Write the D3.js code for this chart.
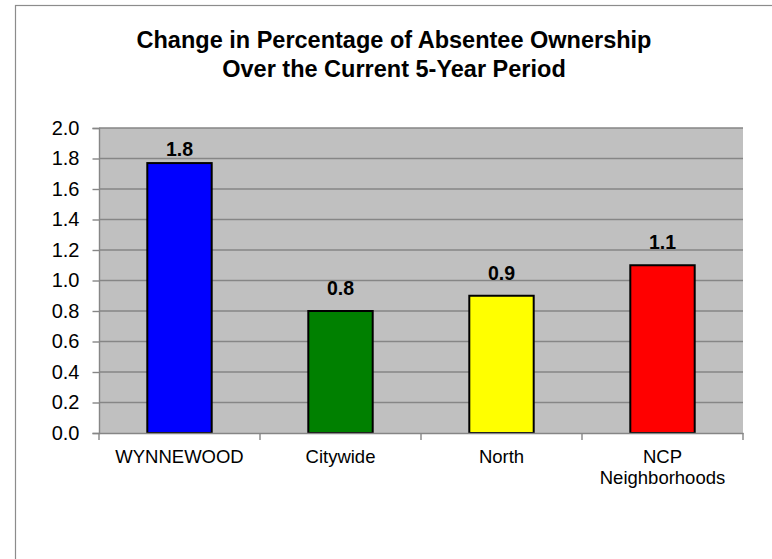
<!DOCTYPE html>
<html>
<head>
<meta charset="utf-8">
<script src="https://cdn.jsdelivr.net/npm/d3@7"></script>
<style>
  html, body { margin: 0; padding: 0; background: #ffffff; }
  svg { display: block; }
  text { font-family: "Liberation Sans", Arial, sans-serif; fill: #000; }
</style>
</head>
<body>
<svg id="chart" width="772" height="559"></svg>
<script>
// ---- data ----
const categories = ["WYNNEWOOD", "Citywide", "North", "NCP\nNeighborhoods"];
const values = [1.77, 0.80, 0.90, 1.10];
const valueLabels = ["1.8", "0.8", "0.9", "1.1"];
const barColors = ["#0000FF", "#008000", "#FFFF00", "#FF0000"];
const yTicks = [0.0, 0.2, 0.4, 0.6, 0.8, 1.0, 1.2, 1.4, 1.6, 1.8, 2.0];
const titleLines = ["Change in Percentage of Absentee Ownership", "Over the Current 5-Year Period"];

// ---- layout ----
const svg = d3.select("#chart");
const plot = { left: 99, right: 743, top: 128, bottom: 433 };

// outer frame
svg.append("rect")
  .attr("x", 15.5).attr("y", 5.5)
  .attr("width", 900).attr("height", 700)
  .attr("fill", "#ffffff")
  .attr("stroke", "#8c8c8c").attr("stroke-width", 1.2);

// title
svg.append("g").selectAll("text").data(titleLines).join("text")
  .attr("x", 394)
  .attr("y", (d, i) => 47.5 + i * 29.5)
  .attr("text-anchor", "middle")
  .attr("font-weight", "bold")
  .attr("font-size", "23.5px")
  .text(d => d);

const x = d3.scaleBand()
  .domain(categories)
  .range([plot.left, plot.right])
  .paddingInner(0).paddingOuter(0);

const y = d3.scaleLinear()
  .domain([0, 2.0])
  .range([plot.bottom, plot.top]);

// plot background
svg.append("rect")
  .attr("x", plot.left).attr("y", plot.top)
  .attr("width", plot.right - plot.left)
  .attr("height", plot.bottom - plot.top)
  .attr("fill", "#C0C0C0");

// gridlines
svg.append("g").selectAll("line").data(yTicks.filter(t => t > 0)).join("line")
  .attr("x1", plot.left).attr("x2", plot.right)
  .attr("y1", d => y(d)).attr("y2", d => y(d))
  .attr("stroke", "#868686").attr("stroke-width", 1.4);

// bars
const barW = x.bandwidth() / 2.5;
svg.append("g").selectAll("rect").data(values).join("rect")
  .attr("x", (d, i) => x(categories[i]) + (x.bandwidth() - barW) / 2)
  .attr("y", d => y(d))
  .attr("width", barW)
  .attr("height", d => y(0) - y(d))
  .attr("fill", (d, i) => barColors[i])
  .attr("stroke", "#000").attr("stroke-width", 2);

// value labels (kept inside the plot area, as Excel does)
svg.append("g").selectAll("text").data(values).join("text")
  .attr("x", (d, i) => x(categories[i]) + x.bandwidth() / 2)
  .attr("y", d => Math.max(y(d) - 16, plot.top + 28))
  .attr("text-anchor", "middle")
  .attr("font-weight", "bold")
  .attr("font-size", "19.5px")
  .text((d, i) => valueLabels[i]);

// y axis
const yAxis = d3.axisLeft(y).tickValues(yTicks).tickFormat(d3.format(".1f"))
  .tickSize(6.5).tickPadding(13);
const gy = svg.append("g").attr("transform", `translate(${plot.left},0)`).call(yAxis);
gy.select(".domain").attr("stroke", "#868686").attr("stroke-width", 1.4);
gy.selectAll(".tick line").attr("stroke", "#868686").attr("stroke-width", 1.4);
gy.selectAll(".tick text")
  .attr("font-family", "Liberation Sans, Arial, sans-serif")
  .attr("font-size", "20px").attr("fill", "#000");

// x axis
const xAxis = d3.axisBottom(x).tickSize(0).tickFormat("");
const gx = svg.append("g").attr("transform", `translate(0,${plot.bottom})`).call(xAxis);
gx.select(".domain").attr("stroke", "#868686").attr("stroke-width", 1.4);
// category boundary tick marks
const bounds = categories.map(c => x(c)).concat([x(categories[categories.length - 1]) + x.bandwidth()]);
gx.append("g").selectAll("line").data(bounds).join("line")
  .attr("x1", d => d).attr("x2", d => d)
  .attr("y1", 0).attr("y2", 7)
  .attr("stroke", "#868686").attr("stroke-width", 1.4);

// category labels
const catG = svg.append("g");
categories.forEach(c => {
  const lines = c.split("\n");
  const t = catG.append("text")
    .attr("x", x(c) + x.bandwidth() / 2)
    .attr("y", 462.5)
    .attr("text-anchor", "middle")
    .attr("font-size", "18.5px");
  lines.forEach((ln, i) => {
    t.append("tspan")
      .attr("x", x(c) + x.bandwidth() / 2)
      .attr("dy", i === 0 ? 0 : 21.7)
      .text(ln);
  });
});
</script>
</body>
</html>
